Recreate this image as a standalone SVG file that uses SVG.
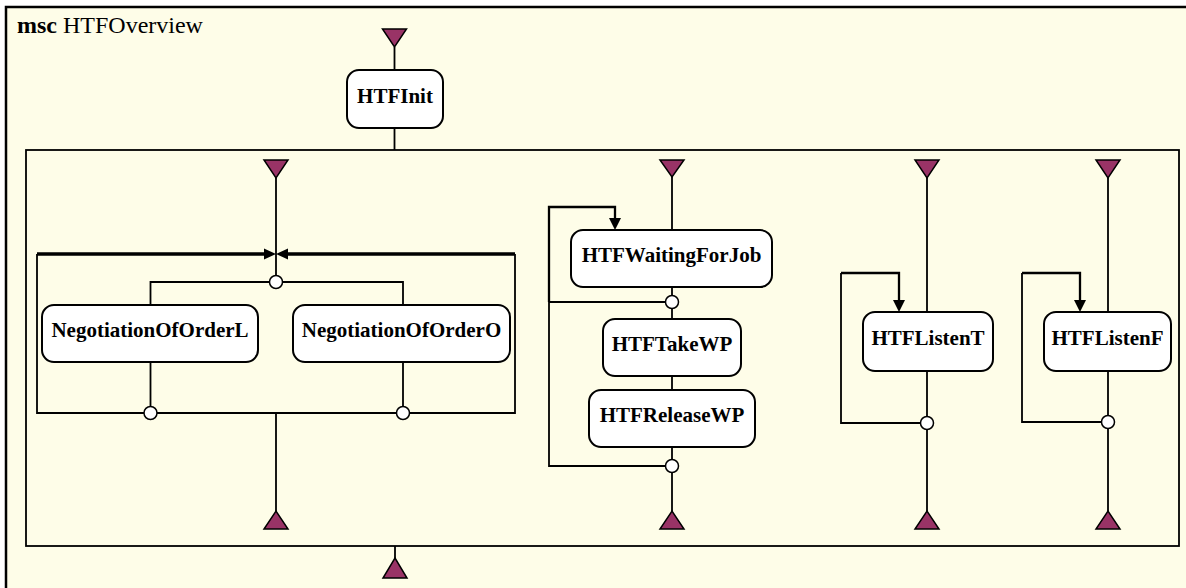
<svg xmlns="http://www.w3.org/2000/svg" width="1186" height="588" viewBox="0 0 1186 588">
<style>
.node rect{fill:#fff;stroke:#000;stroke-width:2}
.node text{font-family:"Liberation Serif","Times New Roman",Times,"DejaVu Serif",serif;font-weight:bold;font-size:21px;text-anchor:middle;fill:#000}
.title{font-family:"Liberation Serif","Times New Roman",Times,"DejaVu Serif",serif;font-size:24px;fill:#000}
.ln{fill:none;stroke:#000;stroke-width:1.8}
.lnb{fill:none;stroke:#000;stroke-width:2.3}
.thick{fill:none;stroke:#000;stroke-width:3.5}
.tri{fill:#993366;stroke:#000;stroke-width:1.5;stroke-linejoin:miter}
.dot{fill:#fff;stroke:#000;stroke-width:1.5}
.ah{fill:#000}
</style>
<rect x="0" y="0" width="1186" height="588" fill="#fff"/>
<rect id="frame" x="6" y="7" width="1190" height="590" fill="#fefde8" stroke="#000" stroke-width="2.5"/>
<text class="title" x="17" y="33"><tspan font-weight="bold">msc</tspan> HTFOverview</text>
<rect id="inner" x="26" y="150" width="1153" height="396" fill="none" stroke="#000" stroke-width="1.8"/>

<g id="connectors">
<path class="ln" d="M394.5,47 V70 M394.5,128 V150 M395,546 V558"/>
<path class="ln" d="M276,178 V282 M276,413 V511"/>
<path class="thick" d="M37,254 H265 M515,254 H287"/>
<path class="ln" d="M37,254 V413 H515 V254"/>
<polygon class="ah" points="264,248.5 276,254 264,259.5"/>
<polygon class="ah" points="288,248.5 276,254 288,259.5"/>
<path class="ln" d="M150.5,305 V282 H403 V305 M150.5,362 V413 M403,362 V413"/>
<path class="ln" d="M672,177 V230 M672,287 V319 M672,376 V390 M672,447 V511"/>
<path class="ln" d="M672,302 H549 V466 H672"/>
<path class="lnb" d="M549,302 V207 H615 V220"/>
<polygon class="ah" points="609,218 621,218 615,230"/>
<path class="ln" d="M927,178 V312 M927,371 V511"/>
<path class="ln" d="M927,423 H841 V273"/>
<path class="lnb" d="M841,273 H899 V301"/>
<polygon class="ah" points="893,300 905,300 899,312"/>
<path class="ln" d="M1108,178 V312 M1108,371 V511"/>
<path class="ln" d="M1108,422 H1022 V273"/>
<path class="lnb" d="M1022,273 H1080 V301"/>
<polygon class="ah" points="1074,300 1086,300 1080,312"/>
<polygon class="tri" points="382.5,29 406.5,29 394.5,47"/>
<polygon class="tri" points="383,578 407,578 395,558"/>
<polygon class="tri" points="264,160 288,160 276,178"/>
<polygon class="tri" points="660,160 684,160 672,177"/>
<polygon class="tri" points="915,160 939,160 927,178"/>
<polygon class="tri" points="1096,160 1120,160 1108,178"/>
<polygon class="tri" points="264,529 288,529 276,511"/>
<polygon class="tri" points="660,529 684,529 672,511"/>
<polygon class="tri" points="915,529 939,529 927,511"/>
<polygon class="tri" points="1096,529 1120,529 1108,511"/>
<circle class="dot" cx="276" cy="282" r="6.5"/>
<circle class="dot" cx="150.5" cy="413" r="6.5"/>
<circle class="dot" cx="403" cy="413" r="6.5"/>
<circle class="dot" cx="672" cy="302" r="6.5"/>
<circle class="dot" cx="672" cy="466" r="6.5"/>
<circle class="dot" cx="927" cy="423" r="6.5"/>
<circle class="dot" cx="1108" cy="422" r="6.5"/>
</g>

<g id="HTFInit" class="node"><rect x="347" y="70" width="96" height="58" rx="12"/><text x="395" y="103">HTFInit</text></g>
<g id="NegotiationOfOrderL" class="node"><rect x="42" y="305" width="216" height="57" rx="12"/><text x="150" y="337">NegotiationOfOrderL</text></g>
<g id="NegotiationOfOrderO" class="node"><rect x="293" y="305" width="217" height="57" rx="12"/><text x="401.5" y="337">NegotiationOfOrderO</text></g>
<g id="HTFWaitingForJob" class="node"><rect x="571" y="230" width="201" height="57" rx="12"/><text x="671.5" y="262">HTFWaitingForJob</text></g>
<g id="HTFTakeWP" class="node"><rect x="603" y="319" width="138" height="57" rx="12"/><text x="672" y="351">HTFTakeWP</text></g>
<g id="HTFReleaseWP" class="node"><rect x="589" y="390" width="166" height="57" rx="12"/><text x="672" y="422">HTFReleaseWP</text></g>
<g id="HTFListenT" class="node"><rect x="863" y="312" width="130" height="59" rx="12"/><text x="928" y="345">HTFListenT</text></g>
<g id="HTFListenF" class="node"><rect x="1044" y="312" width="127" height="59" rx="12"/><text x="1107.5" y="345">HTFListenF</text></g>
</svg>
